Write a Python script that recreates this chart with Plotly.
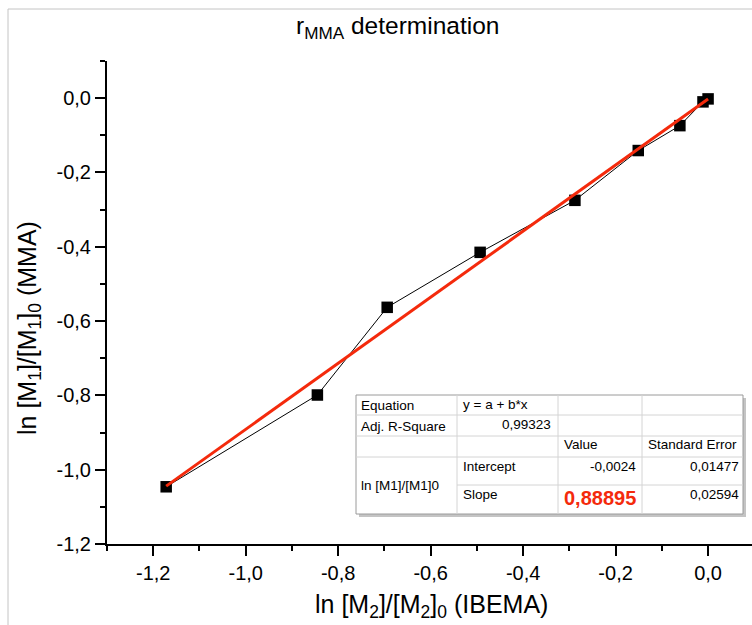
import plotly.graph_objects as go

# Monomer conversion data: ln([M2]/[M2]0) for IBEMA vs ln([M1]/[M1]0) for MMA
ln_m2 = [-1.172, -0.845, -0.694, -0.493, -0.288, -0.151, -0.061, -0.011, 0.0]
ln_m1 = [-1.046, -0.799, -0.563, -0.415, -0.275, -0.141, -0.074, -0.010, -0.002]

# Linear fit results (y = a + b*x)
intercept = -0.0024
slope = 0.88895
intercept_err = 0.01477
slope_err = 0.02594
adj_r2 = 0.99323

x_ticks = [-1.2, -1.0, -0.8, -0.6, -0.4, -0.2, 0.0]
y_ticks = [0.0, -0.2, -0.4, -0.6, -0.8, -1.0, -1.2]


def fmt(v, nd):
    # decimal comma, plain hyphen minus
    return f"{v:.{nd}f}".replace(".", ",")


W, H = 752, 625
ML, MR, MT, MB = 107, 0, 61, 81
PW, PH = W - ML - MR, H - MT - MB


def px(x):
    return (x - ML) / PW


def py(y):
    return (H - MB - y) / PH


FONT = "Liberation Sans, Arial, sans-serif"
RED = "#f42a0c"

fit_x = [min(ln_m2), max(ln_m2)]
fit_y = [intercept + slope * v for v in fit_x]

fig = go.Figure()
fig.add_trace(go.Scatter(
    x=ln_m2, y=ln_m1, mode="lines+markers",
    line=dict(color="black", width=1),
    marker=dict(symbol="square", size=11.5, color="black", line=dict(width=0)),
    showlegend=False, hoverinfo="x+y",
))
fig.add_trace(go.Scatter(
    x=fit_x, y=fit_y, mode="lines",
    line=dict(color=RED, width=3),
    showlegend=False,
))

shapes = []
# outer frame of the graph page
shapes.append(dict(type="rect", xref="paper", yref="paper",
                   x0=px(8), y0=py(640), x1=px(770), y1=py(9),
                   line=dict(color="#c4c4c4", width=1), layer="below"))

# fit-results table
tx0, ty0, tx1, ty1 = 356, 395, 743, 514
shapes.append(dict(type="rect", xref="paper", yref="paper",
                   x0=px(tx0 + 3), y0=py(ty1 + 3), x1=px(tx1 + 3), y1=py(ty0 + 3),
                   line=dict(width=0), fillcolor="#c4c4c4"))
shapes.append(dict(type="rect", xref="paper", yref="paper",
                   x0=px(tx0), y0=py(ty1), x1=px(tx1), y1=py(ty0),
                   line=dict(color="#9a9a9a", width=1), fillcolor="white"))
grid = "#d4d4d4"
for cx in [457, 558, 642]:
    shapes.append(dict(type="line", xref="paper", yref="paper",
                       x0=px(cx), x1=px(cx), y0=py(ty0), y1=py(ty1),
                       line=dict(color=grid, width=1)))
for ry in [415, 436, 457]:
    shapes.append(dict(type="line", xref="paper", yref="paper",
                       x0=px(tx0), x1=px(tx1), y0=py(ry), y1=py(ry),
                       line=dict(color=grid, width=1)))
shapes.append(dict(type="line", xref="paper", yref="paper",
                   x0=px(457), x1=px(tx1), y0=py(485), y1=py(485),
                   line=dict(color=grid, width=1)))

annotations = []


def label(text, x, y, anchor="left", size=13.5, color="black", bold=False, angle=0):
    t = f"<b>{text}</b>" if bold else text
    annotations.append(dict(text=t, x=px(x), y=py(y), xref="paper", yref="paper",
                            xanchor=anchor, yanchor="middle", showarrow=False,
                            textangle=angle,
                            font=dict(family=FONT, size=size, color=color)))


label("Equation", 359, 405)
label("y = a + b*x", 461, 404)
label("Adj. R-Square", 359, 426)
label(fmt(adj_r2, 5), 553, 424, anchor="right")
label("Value", 562, 444)
label("Standard Error", 646, 444)
label("Intercept", 461, 466)
label(fmt(intercept, 4), 638, 466, anchor="right")
label(fmt(intercept_err, 5), 741, 466, anchor="right")
label("ln [M1]/[M1]0", 359, 485)
label("Slope", 461, 494)
label(fmt(slope, 5), 638, 498, anchor="right", size=20, color=RED, bold=True)
label(fmt(slope_err, 5), 741, 494, anchor="right")

# chart and axis titles
label("r<sub>MMA</sub> determination", 397, 28, anchor="center", size=24.5)
label("ln [M<sub>2</sub>]/[M<sub>2</sub>]<sub>0</sub> (IBEMA)", 431, 606,
      anchor="center", size=25)
label("ln [M<sub>1</sub>]/[M<sub>1</sub>]<sub>0</sub> (MMA)", 29, 328,
      anchor="center", size=25, angle=-90)

axis_common = dict(
    showline=True, linecolor="black", linewidth=2,
    ticks="outside", ticklen=10, tickwidth=1.5, tickcolor="black",
    showgrid=False, zeroline=False, mirror=False,
    tickfont=dict(family=FONT, size=20, color="black"),
    minor=dict(ticks="outside", ticklen=5, tickwidth=1.5, tickcolor="black",
               dtick=0.1, showgrid=False),
)

fig.update_layout(
    width=W, height=H,
    margin=dict(l=ML, r=MR, t=MT, b=MB),
    paper_bgcolor="white", plot_bgcolor="white",
    xaxis=dict(range=[-1.3, 0.095], tickvals=x_ticks,
               ticktext=[fmt(v, 1) for v in x_ticks], **axis_common),
    yaxis=dict(range=[-1.2, 0.1], tickvals=y_ticks,
               ticktext=[fmt(v, 1) for v in y_ticks], **axis_common),
    shapes=shapes,
    annotations=annotations,
)

fig.write_html("out.html")
